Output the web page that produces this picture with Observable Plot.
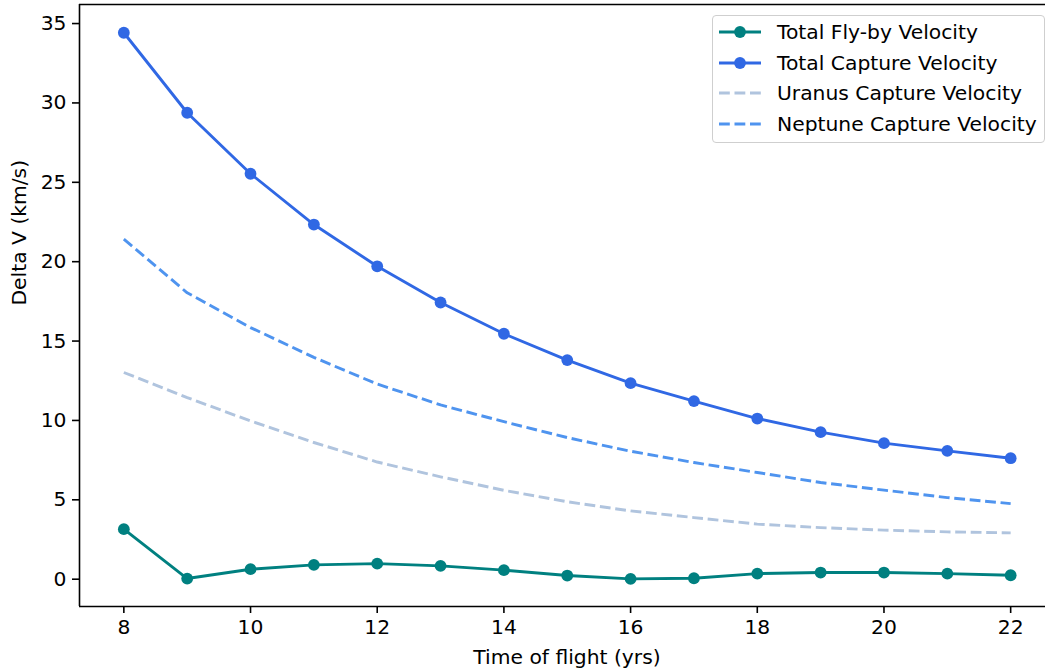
<!DOCTYPE html>
<html>
<head>
<meta charset="utf-8">
<script src="https://cdn.jsdelivr.net/npm/d3@7"></script>
<script src="https://cdn.jsdelivr.net/npm/@observablehq/plot@0.6"></script>
<style>
  html, body { margin: 0; padding: 0; background: #fff; overflow: hidden; }
  #wrap { position: relative; width: 1045px; height: 670px; font-family: "DejaVu Sans", sans-serif; }
  #legend { position: absolute; left: 711.5px; top: 15px; width: 331px; height: 126px;
            border: 1.2px solid #cfcfcf; border-radius: 4px; background: rgba(255,255,255,0.85); }
  .row { position: absolute; left: 0; height: 30px; display: flex; align-items: center; }
  .row svg { margin-left: 5.5px; }
  .row span { position: absolute; left: 64.5px; font-size: 20.3px; color: #000; white-space: nowrap; line-height: 30px; top: 0; }
</style>
</head>
<body>
<div id="wrap"></div>
<script>
const years = [8, 9, 10, 11, 12, 13, 14, 15, 16, 17, 18, 19, 20, 21, 22];
const flyby = [3.15, 0.04, 0.63, 0.90, 0.98, 0.84, 0.57, 0.23, 0.02, 0.06, 0.35, 0.42, 0.42, 0.35, 0.25];
const capture = [34.42, 29.38, 25.54, 22.34, 19.71, 17.43, 15.46, 13.80, 12.35, 11.22, 10.12, 9.26, 8.57, 8.08, 7.62];
const uranus = [13.02, 11.44, 9.97, 8.61, 7.38, 6.45, 5.60, 4.88, 4.30, 3.88, 3.47, 3.25, 3.09, 2.98, 2.92];
const neptune = [21.42, 18.04, 15.85, 13.97, 12.29, 10.98, 9.92, 8.92, 8.06, 7.35, 6.72, 6.09, 5.61, 5.14, 4.76];
const xTicks = [8, 10, 12, 14, 16, 18, 20, 22];
const yTicks = [0, 5, 10, 15, 20, 25, 30, 35];
const seriesNames = ["Total Fly-by Velocity", "Total Capture Velocity", "Uranus Capture Velocity", "Neptune Capture Velocity"];
const seriesColors = ["#008080", "#3068e4", "#b0c4de", "#4f94ef"];

const xDomain = [7.3, 22.55];
const yDomain = [-1.72, 36.2];
const FS = 20.3;

const mk = vals => years.map((x, i) => ({x, y: vals[i]}));
const dFly = mk(flyby), dCap = mk(capture), dUra = mk(uranus), dNep = mk(neptune);

const chart = Plot.plot({
  width: 1045,
  height: 670,
  marginLeft: 79,
  marginRight: 0,
  marginTop: 4,
  marginBottom: 64,
  style: {fontFamily: "DejaVu Sans, sans-serif", fontSize: FS + "px", color: "#000", background: "transparent", overflow: "visible"},
  x: {domain: xDomain},
  y: {domain: yDomain},
  marks: [
    Plot.axisX({ticks: xTicks, tickSize: 7, tickPadding: 6, strokeWidth: 1.6, fontSize: FS, label: null}),
    Plot.axisY({ticks: yTicks, tickSize: 7, tickPadding: 6, strokeWidth: 1.6, fontSize: FS, label: null}),
    Plot.ruleX([xDomain[0]], {stroke: "#000", strokeWidth: 1.6}),
    Plot.ruleY([yDomain[0], yDomain[1]], {stroke: "#000", strokeWidth: 1.6}),
    Plot.line(dFly, {x: "x", y: "y", stroke: seriesColors[0], strokeWidth: 2.9}),
    Plot.dot(dFly, {x: "x", y: "y", r: 5.9, fill: seriesColors[0], stroke: "none"}),
    Plot.line(dCap, {x: "x", y: "y", stroke: seriesColors[1], strokeWidth: 2.9}),
    Plot.dot(dCap, {x: "x", y: "y", r: 5.9, fill: seriesColors[1], stroke: "none"}),
    Plot.line(dUra, {x: "x", y: "y", stroke: seriesColors[2], strokeWidth: 2.9, strokeDasharray: "10.8,4.7", strokeLinecap: "butt"}),
    Plot.line(dNep, {x: "x", y: "y", stroke: seriesColors[3], strokeWidth: 2.9, strokeDasharray: "10.8,4.7", strokeLinecap: "butt"}),
    Plot.text(["Time of flight (yrs)"], {text: d => d, frameAnchor: "bottom", dx: 4.5, dy: 51, fontSize: FS, lineAnchor: "middle", fill: "#000"}),
    Plot.text(["Delta V (km/s)"], {text: d => d, frameAnchor: "left", dx: -60.5, rotate: -90, fontSize: FS, lineAnchor: "middle", fill: "#000"})
  ]
});

const wrap = document.getElementById("wrap");
wrap.appendChild(chart);

// Legend (inside the axes, upper right)
const legend = document.createElement("div");
legend.id = "legend";
const rowCenters = [16, 46.7, 77.3, 108];
seriesNames.forEach((name, i) => {
  const row = document.createElement("div");
  row.className = "row";
  row.style.top = (rowCenters[i] - 15) + "px";
  const dashed = i >= 2;
  const svg = `<svg width="44" height="30" viewBox="0 0 44 30">
    <line x1="1" y1="15" x2="43" y2="15" stroke="${seriesColors[i]}" stroke-width="2.9"
      ${dashed ? 'stroke-dasharray="10.8,4.7" stroke-linecap="butt"' : ''}/>
    ${dashed ? '' : `<circle cx="22" cy="15" r="5.9" fill="${seriesColors[i]}"/>`}
  </svg>`;
  row.innerHTML = svg + `<span>${name}</span>`;
  legend.appendChild(row);
});
wrap.appendChild(legend);
</script>
</body>
</html>
